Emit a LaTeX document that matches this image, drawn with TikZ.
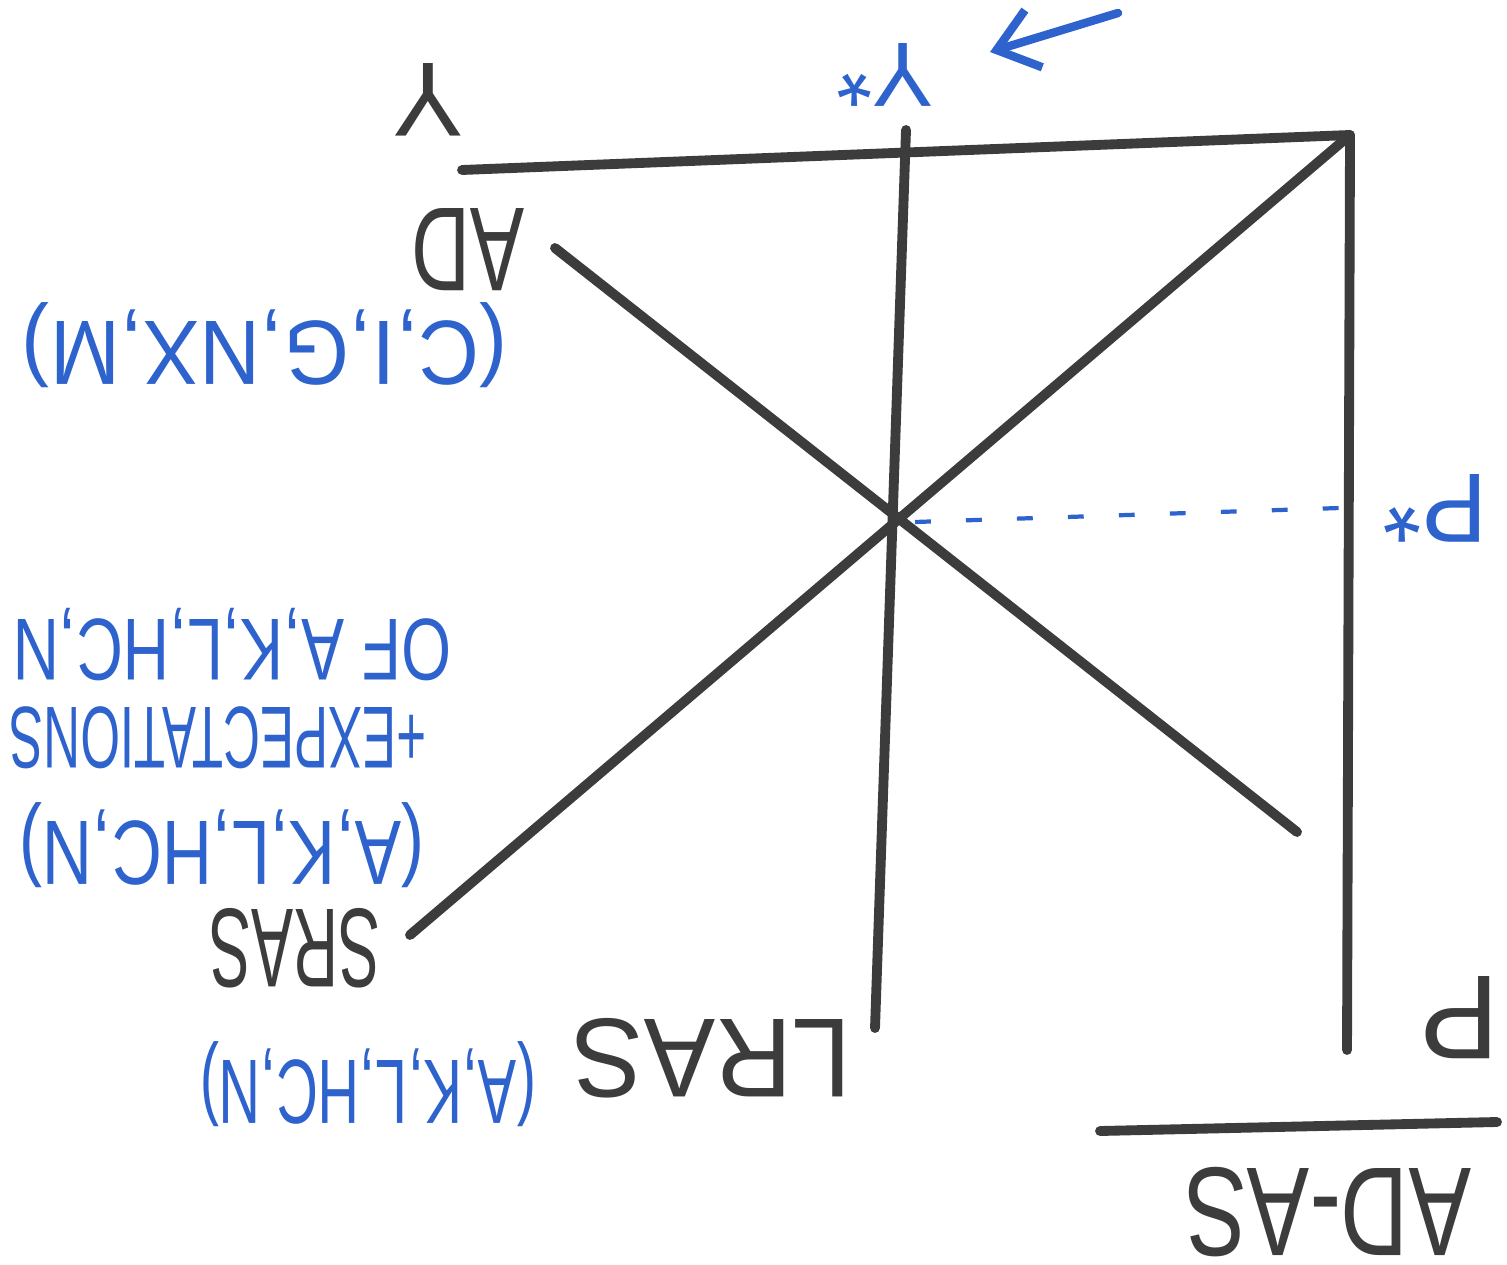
\documentclass[tikz,border=0pt]{standalone}
\usepackage{fontspec}
\setmainfont{Liberation Sans}
\usetikzlibrary{arrows.meta}
\definecolor{inkgray}{HTML}{3C3C3C}
\definecolor{inkblue}{HTML}{2E62CC}
\tikzset{
  pen/.style={line width=2.8pt,line cap=round,line join=round,inkgray},
  bluepen/.style={line width=2.4pt,line cap=round,inkblue},
  flip/.style={rotate=180,inner sep=0pt,text=inkgray},
  note/.style={flip,text=inkblue},
}

\begin{document}
\begin{tikzpicture}[x=0.01cm,y=-0.01cm]
  \useasboundingbox (0,0) rectangle (1507,1264);
  % axes (whole sketch is upside down)
  \coordinate (corner) at (1350,135);
  \coordinate (yend) at (462,170);
  \coordinate (pend) at (1347,1050);
  \draw[pen] (yend) -- (corner) -- (pend);
  % curves
  \coordinate (lrastop) at (906,130);
  \coordinate (lrasbot) at (875,1028);
  \coordinate (adtop) at (555,248);
  \coordinate (adbot) at (1297,832);
  \coordinate (srasend) at (410,935);
  \draw[pen] (lrastop) -- (lrasbot);
  \draw[pen] (adtop) -- (adbot);
  \draw[pen] (corner) -- (srasend);
  \coordinate (eq) at (915,522);
  \coordinate (pstar) at (1340,508);
  \draw[inkblue,line width=1.2pt,dash pattern=on 4.5pt off 10pt] (eq) -- (pstar);
  % title
  \coordinate (ulleft) at (1100,1131);
  \coordinate (ulright) at (1497,1122);
  \draw[pen] (ulleft) -- (ulright);
  \node[flip,xscale=0.74,font=\fontsize{36}{40}\selectfont] (title) at (1328,1212) {AD-AS};
  % axis labels
  \node[flip,font=\fontsize{34}{38}\selectfont] (plab) at (1460,1018) {P};
  \node[flip,font=\fontsize{30}{34}\selectfont] (ylab) at (428,100) {Y};
  \node[flip,xscale=0.68,font=\fontsize{34}{38}\selectfont] (adlab) at (468,250) {AD};
  \node[flip,xscale=0.56,font=\fontsize{32}{36}\selectfont] (sraslab) at (295,948) {SRAS};
  \node[flip,xscale=0.95,font=\fontsize{32}{36}\selectfont] (lraslab) at (712,1058) {LRAS};
  % blue notes
  \node[note,font=\fontsize{28}{32}\selectfont] (pstarlab) at (1435,508) {P*};
  \node[note,font=\fontsize{26}{30}\selectfont] (ystarlab) at (885,75) {Y*};
  \node[note,xscale=0.92,font=\fontsize{26}{30}\selectfont] (adnote) at (265,345) {(C,I,G,NX,M)};
  \node[note,xscale=0.73,font=\fontsize{25}{30}\selectfont] (srasnote3) at (232,645) {OF A,K,L,HC,N};
  \node[note,xscale=0.58,font=\fontsize{25}{30}\selectfont] (srasnote2) at (218,738) {+EXPECTATIONS};
  \node[note,xscale=0.76,font=\fontsize{26}{30}\selectfont] (srasnote1) at (222,845) {(A,K,L,HC,N)};
  \node[note,xscale=0.63,font=\fontsize{26}{30}\selectfont] (lrasnote) at (368,1084) {(A,K,L,HC,N)};
  % shift arrow
  \coordinate (ytail) at (1118,13);
  \coordinate (yhead) at (990,52);
  \draw[bluepen,-{Straight Barb[length=11pt,width=17pt,line width=2.4pt]}] (ytail) -- (yhead);
\end{tikzpicture}
\end{document}
